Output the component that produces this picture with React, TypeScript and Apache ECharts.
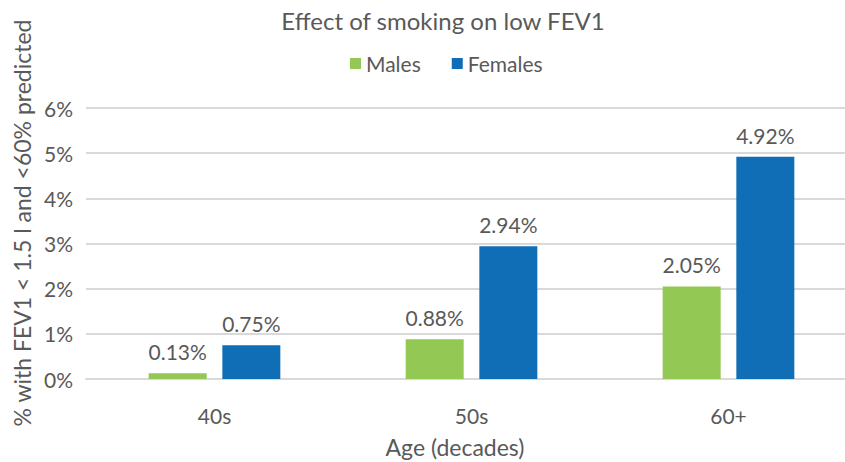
import React, { useEffect, useRef } from "react";
import * as echarts from "echarts";

const categories = ["40s", "50s", "60+"];
const males = [0.13, 0.88, 2.05];
const females = [0.75, 2.94, 4.92];
const yTicks = [0, 1, 2, 3, 4, 5, 6];

const FONT = "Lato";
const TXT = "#595959";

export default function App() {
  const ref = useRef<HTMLDivElement>(null);
  useEffect(() => {
    const chart = echarts.init(ref.current!, null, { renderer: "svg" });
    const label = {
      show: true,
      position: "top",
      distance: 11,
      color: TXT,
      fontFamily: FONT,
      fontSize: 21,
      formatter: (p: any) => p.value.toFixed(2) + "%",
    };
    chart.setOption({
      animation: false,
      backgroundColor: "#ffffff",
      textStyle: { fontFamily: FONT },
      title: {
        text: "Effect of smoking on low FEV1",
        left: 438,
        top: 3,
        textAlign: "center",
        textStyle: { color: TXT, fontFamily: FONT, fontSize: 24, fontWeight: "normal" },
      },
      legend: {
        left: 345,
        top: 48,
        itemWidth: 11,
        itemHeight: 11,
        itemGap: 31,
        icon: "rect",
        textStyle: { color: TXT, fontFamily: FONT, fontSize: 21 },
        data: ["Males", "Females"],
      },
      grid: {
        left: 86,
        top: 108,
        width: 771,
        bottom: 83,
        containLabel: false,
        outerBoundsMode: "none",
      },
      xAxis: {
        type: "category",
        data: categories,
        axisTick: { show: false },
        axisLine: { show: true, lineStyle: { color: "#d9d9d9", width: 2 } },
        axisLabel: { color: TXT, fontFamily: FONT, fontSize: 21, margin: 26 },
      },
      yAxis: {
        type: "value",
        min: yTicks[0],
        max: yTicks[yTicks.length - 1],
        interval: 1,
        axisLine: { show: false },
        axisTick: { show: false },
        splitLine: { lineStyle: { color: "#d9d9d9", width: 2 } },
        axisLabel: { color: TXT, fontFamily: FONT, fontSize: 21, margin: 13, formatter: "{value}%" },
      },
      graphic: [
        {
          type: "text",
          x: 455,
          y: 447,
          style: {
            text: "Age (decades)",
            fill: TXT,
            font: `23px ${FONT}`,
            textAlign: "center",
            textVerticalAlign: "middle",
          },
        },
        {
          type: "text",
          x: 22,
          y: 223,
          rotation: Math.PI / 2,
          style: {
            text: "% with FEV1 < 1.5 l and <60% predicted",
            fill: TXT,
            font: `23px ${FONT}`,
            textAlign: "center",
            textVerticalAlign: "middle",
          },
        },
      ],
      series: [
        {
          name: "Males",
          type: "bar",
          data: males,
          barWidth: 58,
          barGap: "27%",
          itemStyle: { color: "#92C853" },
          label,
        },
        {
          name: "Females",
          type: "bar",
          data: females,
          barWidth: 58,
          barGap: "27%",
          itemStyle: { color: "#106EB7" },
          label,
        },
      ],
    });
    return () => chart.dispose();
  }, []);
  return (
    <div
      ref={ref}
      style={{ position: "fixed", left: 0, top: 0, width: 845, height: 462 }}
    />
  );
}
